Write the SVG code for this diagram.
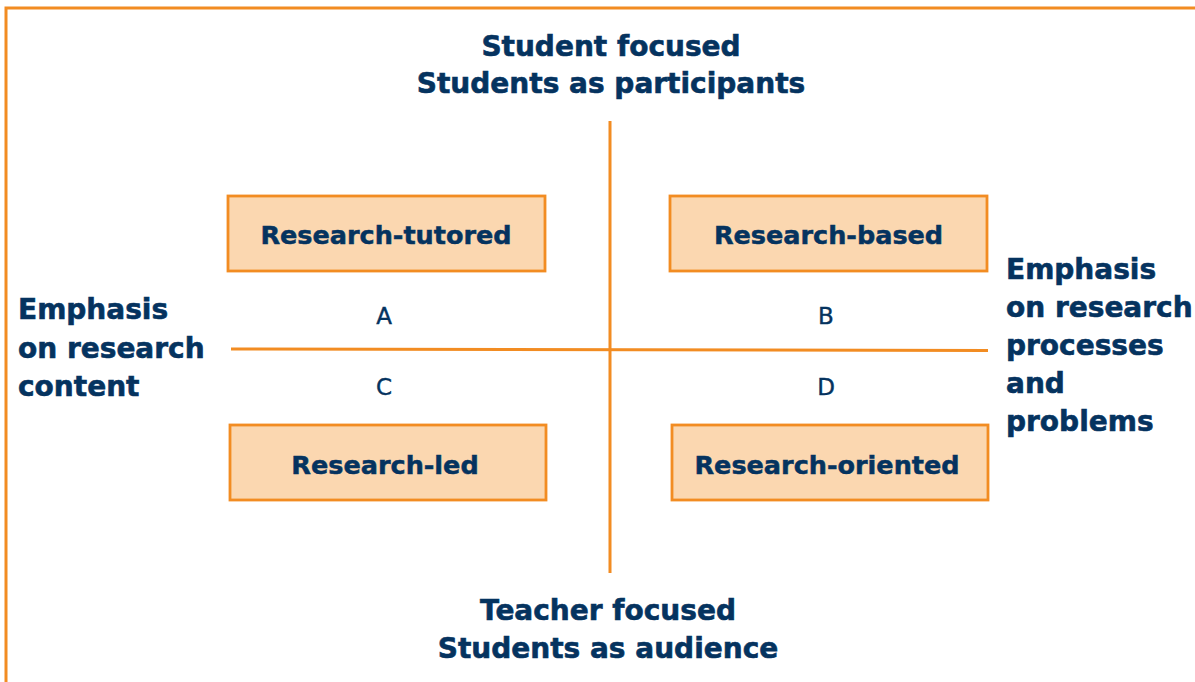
<svg xmlns="http://www.w3.org/2000/svg" width="1195" height="682" viewBox="0 0 1195 682">
<style>
.t{font-family:"DejaVu Sans","Verdana",sans-serif;font-weight:bold;fill:#05335f;stroke:#05335f;stroke-width:0.6;font-size:28px}
.b{font-family:"DejaVu Sans","Verdana",sans-serif;font-weight:bold;fill:#05335f;stroke:#05335f;stroke-width:0.5;font-size:25.5px;text-anchor:middle}
.l{font-family:"DejaVu Sans","Verdana",sans-serif;fill:#05335f;stroke:#05335f;stroke-width:0.4;font-size:23px;text-anchor:middle}
.box{fill:#fbd7b0;stroke:#f28c22;stroke-width:2.8}
.ln{stroke:#f28c22;stroke-width:3;fill:none}
</style>
<rect width="1195" height="682" fill="#ffffff"/>
<g id="frame"><path class="ln" d="M6 682 V8 H1195"/></g>
<g id="connectors">
<line class="ln" x1="610" y1="121" x2="610" y2="573"/>
<line class="ln" x1="231" y1="349" x2="988" y2="350.5"/>
</g>
<g id="top-label"><text class="t" text-anchor="middle" x="611" y="56">Student focused</text><text class="t" text-anchor="middle" x="611" y="93">Students as participants</text></g>
<g id="bottom-label"><text class="t" text-anchor="middle" x="608" y="620">Teacher focused</text><text class="t" text-anchor="middle" x="608" y="658">Students as audience</text></g>
<g id="left-label"><text class="t" x="18" y="319">Emphasis</text><text class="t" x="18" y="358">on research</text><text class="t" x="18" y="396">content</text></g>
<g id="right-label"><text class="t" x="1006" y="279">Emphasis</text><text class="t" x="1006" y="317">on research</text><text class="t" x="1006" y="355">processes</text><text class="t" x="1006" y="393">and</text><text class="t" x="1006" y="431">problems</text></g>
<g id="research-tutored"><rect class="box" x="228" y="196" width="317" height="75"/><text class="b" x="386" y="244">Research-tutored</text></g>
<g id="research-based"><rect class="box" x="670" y="196" width="317" height="75"/><text class="b" x="828.5" y="244">Research-based</text></g>
<g id="research-led"><rect class="box" x="230" y="425" width="316" height="75"/><text class="b" x="385" y="474">Research-led</text></g>
<g id="research-oriented"><rect class="box" x="672" y="425" width="316" height="75"/><text class="b" x="827" y="474">Research-oriented</text></g>
<g id="quadrant-letters"><text class="l" x="384" y="324">A</text><text class="l" x="826" y="324">B</text><text class="l" x="384" y="395">C</text><text class="l" x="826" y="395">D</text></g>
</svg>
